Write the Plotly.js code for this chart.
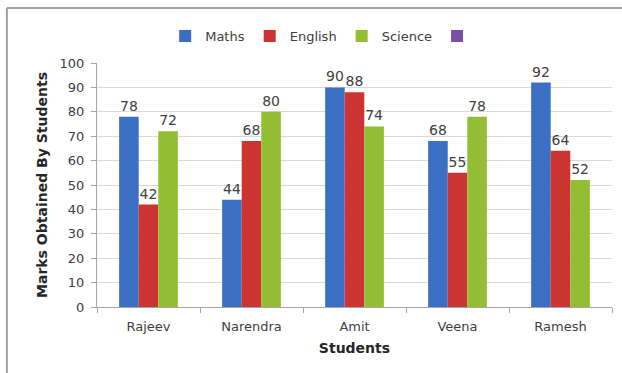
<!DOCTYPE html>
<html>
<head>
<meta charset="utf-8">
<script src="https://cdn.plot.ly/plotly-3.0.1.min.js"></script>
<style>html,body{margin:0;padding:0;background:#fff;} #chart{width:622px;height:373px;}</style>
</head>
<body>
<div id="chart"></div>
<script>
const students = ["Rajeev", "Narendra", "Amit", "Veena", "Ramesh"];
const maths = [78, 44, 90, 68, 92];
const english = [42, 68, 88, 55, 64];
const science = [72, 80, 74, 78, 52];
const extraSeries = [null, null, null, null, null];
const yTicks = [0, 10, 20, 30, 40, 50, 60, 70, 80, 90, 100];

const font = "Verdana, 'DejaVu Sans', sans-serif";
function series(name, vals, color, group) {
  return {
    type: "bar", name: name, x: students, y: vals, offsetgroup: group,
    text: vals.map(v => v == null ? "" : String(v)),
    textposition: "outside", cliponaxis: false,
    textfont: {family: font, size: 14, color: "#404040"},
    marker: {color: color, line: {width: 0}},
    hoverinfo: "skip"
  };
}
const data = [
  series("Maths", maths, "#3a6fc4", "a"),
  series("English", english, "#cc3432", "b"),
  series("Science", science, "#93be34", "c"),
  series(" ", extraSeries, "#7a4fa6", "a")
];
const layout = {
  width: 622, height: 373,
  margin: {l: 97, r: 10, t: 63, b: 66},
  paper_bgcolor: "#ffffff", plot_bgcolor: "#ffffff",
  font: {family: font, size: 13, color: "#404040"},
  barmode: "group", bargap: 0.43, bargroupgap: 0,
  showlegend: true,
  legend: {orientation: "h", x: 0.445, xanchor: "center", y: 1.11, yanchor: "middle",
           font: {family: font, size: 13, color: "#404040"}, itemwidth: 30, traceorder: "normal"},
  xaxis: {
    type: "category", showgrid: false, showline: true, linecolor: "#a6a6a6", linewidth: 1,
    ticks: "outside", tickson: "boundaries", ticklen: 5, tickcolor: "#a6a6a6",
    ticklabelstandoff: 7,
    tickfont: {family: font, size: 13, color: "#404040"},
    title: {text: "<b>Students</b>", font: {family: font, size: 14, color: "#262626"}, standoff: 10}
  },
  yaxis: {
    range: [0, 100], tickvals: yTicks, ticktext: yTicks.map(String),
    showgrid: true, gridcolor: "#d9d9d9", gridwidth: 1,
    showline: true, linecolor: "#a6a6a6", linewidth: 1,
    ticks: "outside", ticklen: 5, tickcolor: "#a6a6a6",
    ticklabelstandoff: 4,
    zeroline: false,
    tickfont: {family: font, size: 13, color: "#404040"},
    title: {text: "<b>Marks Obtained By Students</b>", font: {family: font, size: 14, color: "#262626"}, standoff: 8}
  },
  shapes: [
    {type: "line", xref: "paper", yref: "paper", x0: -0.175, x1: 1.02, y0: 1.225, y1: 1.225, line: {color: "#a0a0a0", width: 2}},
    {type: "line", xref: "paper", yref: "paper", x0: -0.175, x1: -0.175, y0: 1.225, y1: -0.28, line: {color: "#a0a0a0", width: 2}}
  ]
};
Plotly.newPlot("chart", data, layout, {displayModeBar: false, staticPlot: true});
</script>
</body>
</html>
